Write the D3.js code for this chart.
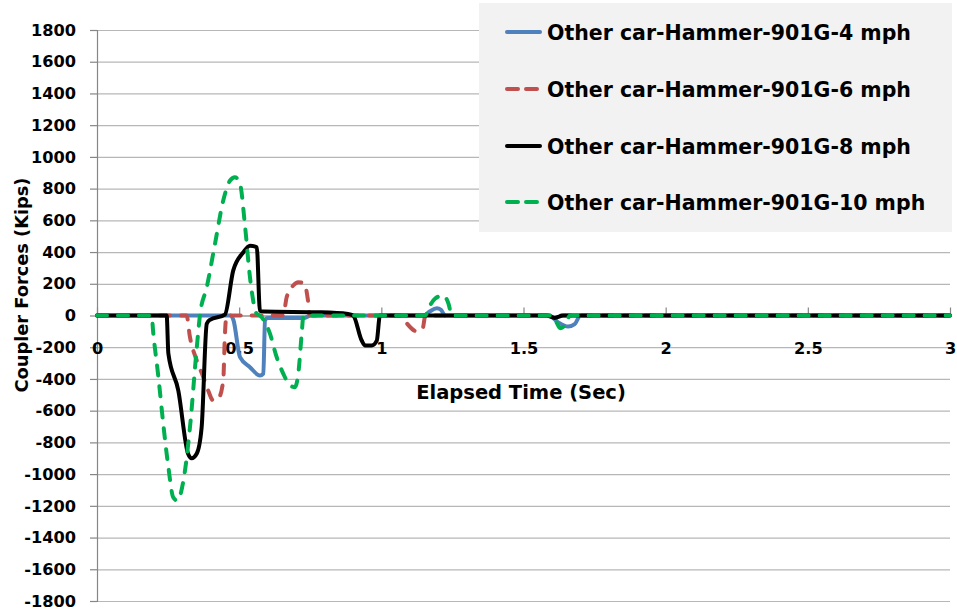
<!DOCTYPE html>
<html>
<head>
<meta charset="utf-8">
<script src="https://cdn.jsdelivr.net/npm/d3@7"></script>
<style>
  html, body { margin: 0; padding: 0; background: #ffffff; }
  svg { display: block; }
  .tick text { font-family: "DejaVu Sans", sans-serif; font-weight: bold; font-size: 16.2px; fill: #000; }
</style>
</head>
<body>
<svg id="chart" width="957" height="613"></svg>
<script>
// ---- Data ----
const seriesNames = [
  "Other car-Hammer-901G-4 mph",
  "Other car-Hammer-901G-6 mph",
  "Other car-Hammer-901G-8 mph",
  "Other car-Hammer-901G-10 mph"
];

const t4 = [0, 0.47, 0.48, 0.503, 0.538, 0.573, 0.585, 0.591, 0.60, 0.73, 0.75, 1.15, 1.17, 1.195, 1.21, 1.224, 1.59, 1.62, 1.657, 1.68, 1.70, 3];
const v4 = [0, 0, -30, -263, -326, -378, -366, -30, -15, -15, 0, 0, 25, 45, 35, 0, 0, -40, -70, -55, 0, 0];

const t6 = [0, 0.315, 0.327, 0.351, 0.374, 0.391, 0.409, 0.427, 0.444, 0.450, 0.456, 0.655, 0.667, 0.690, 0.708, 0.730, 0.742, 0.749, 1.065, 1.08, 1.125, 1.145, 1.155, 3];
const v6 = [0, 0, -137, -284, -389, -473, -536, -523, -410, -113, 0, 0, 115, 189, 210, 200, 95, 0, 0, -30, -100, -85, 0, 0];

const t8 = [0, 0.245, 0.251, 0.286, 0.320, 0.333, 0.351, 0.368, 0.386, 0.397, 0.450, 0.479, 0.514, 0.538, 0.562, 0.573, 0.585, 0.79, 0.883, 0.901, 0.931, 0.943, 0.966, 0.984, 0.995, 1.58, 1.61, 1.64, 3];
const v8 = [0, 0, -240, -473, -870, -900, -870, -705, -52, -27, 6, 283, 397, 440, 430, 30, 25, 20, 10, 0, -158, -189, -189, -158, 0, 0, -15, 0, 0];

const t10 = [0, 0.192, 0.198, 0.216, 0.233, 0.251, 0.268, 0.282, 0.304, 0.327, 0.351, 0.362, 0.386, 0.415, 0.444, 0.468, 0.485, 0.503, 0.521, 0.538, 0.562, 0.573, 0.608, 0.632, 0.655, 0.679, 0.696, 0.708, 0.720, 0.726, 1.154, 1.171, 1.189, 1.218, 1.236, 1.248, 1.600, 1.615, 1.629, 1.646, 1.664, 3];
const v10 = [0, 0, -113, -389, -683, -956, -1146, -1167, -1040, -704, -200, 0, 178, 452, 725, 851, 872, 830, 557, 241, 10, 0, -113, -263, -366, -441, -452, -366, -113, 0, 0, 63, 107, 126, 76, 0, 0, -40, -80, -60, 0, 0];

const xTicks = [0, 0.5, 1, 1.5, 2, 2.5, 3];
const yTicks = [-1800, -1600, -1400, -1200, -1000, -800, -600, -400, -200, 0, 200, 400, 600, 800, 1000, 1200, 1400, 1600, 1800];

// ---- Styles ----
const colors = ["#4f81bd", "#c0504d", "#000000", "#00b050"];
const dashes = [null, "10,11", null, "10,11"];

// ---- Layout ----
const svg = d3.select("#chart");
const mLeft = 97, mRight = 950, mTop = 30, mBottom = 601;

const x = d3.scaleLinear().domain([0, 3]).range([mLeft, mRight]);
const y = d3.scaleLinear().domain([-1800, 1800]).range([mBottom, mTop]);

// Gridlines
svg.append("g")
  .attr("transform", `translate(${mLeft},0)`)
  .call(d3.axisLeft(y).tickValues(yTicks).tickSize(-(mRight - mLeft)).tickFormat(""))
  .call(g => g.select(".domain").remove())
  .call(g => g.selectAll("line").attr("stroke", "#b7b7b7").attr("stroke-width", 1.2));

// Y axis
svg.append("g")
  .attr("transform", `translate(${mLeft},0)`)
  .call(d3.axisLeft(y).tickValues(yTicks).tickSize(7).tickPadding(14).tickFormat(d3.format("d")))
  .call(g => g.select(".domain").attr("stroke", "#868686").attr("stroke-width", 1.2))
  .call(g => g.selectAll(".tick line").attr("stroke", "#868686").attr("stroke-width", 1.2))
  .call(g => g.selectAll("text").text(d => d < 0 ? "-" + Math.abs(d) : d));

// X axis at y = 0
svg.append("g")
  .attr("transform", `translate(0,${y(0)})`)
  .call(d3.axisBottom(x).tickValues(xTicks).tickSizeInner(-8).tickSizeOuter(0).tickPadding(27).tickFormat(d => String(d)))
  .call(g => g.select(".domain").attr("stroke", "#868686").attr("stroke-width", 1.2))
  .call(g => g.selectAll(".tick line").attr("stroke", "#868686").attr("stroke-width", 1.2));

// Series
const allT = [t4, t6, t8, t10];
const allV = [v4, v6, v8, v10];
const line = d3.line().x(d => x(d[0])).y(d => y(d[1])).curve(d3.curveMonotoneX);

allT.forEach((ts, i) => {
  const pts = ts.map((t, k) => [t, allV[i][k]]);
  svg.append("path")
    .datum(pts)
    .attr("fill", "none")
    .attr("stroke", colors[i])
    .attr("stroke-width", 4)
    .attr("stroke-linecap", "round")
    .attr("stroke-linejoin", "round")
    .attr("stroke-dasharray", dashes[i])
    .attr("d", line);
});

// Axis titles
svg.append("text")
  .attr("x", 521).attr("y", 399)
  .attr("text-anchor", "middle")
  .style("font-family", "'DejaVu Sans', sans-serif")
  .style("font-weight", "bold")
  .style("font-size", "19.5px")
  .text("Elapsed Time (Sec)");

svg.append("text")
  .attr("transform", "translate(28,285) rotate(-90)")
  .attr("text-anchor", "middle")
  .style("font-family", "'DejaVu Sans', sans-serif")
  .style("font-weight", "bold")
  .style("font-size", "17.8px")
  .text("Coupler Forces (Kips)");

// Legend
const lg = svg.append("g");
lg.append("rect")
  .attr("x", 479).attr("y", 3).attr("width", 473).attr("height", 229)
  .attr("fill", "#f2f2f2");

const legendY = [32, 89, 146, 202];
seriesNames.forEach((name, i) => {
  lg.append("line")
    .attr("x1", 507).attr("x2", 540)
    .attr("y1", legendY[i]).attr("y2", legendY[i])
    .attr("stroke", colors[i])
    .attr("stroke-width", 4)
    .attr("stroke-linecap", "round")
    .attr("stroke-dasharray", dashes[i] ? "11,8" : null);
  lg.append("text")
    .attr("x", 547).attr("y", legendY[i] + 7.5)
    .style("font-family", "'DejaVu Sans', sans-serif")
    .style("font-weight", "bold")
    .style("font-size", "20.5px")
    .text(name);
});
</script>
</body>
</html>
